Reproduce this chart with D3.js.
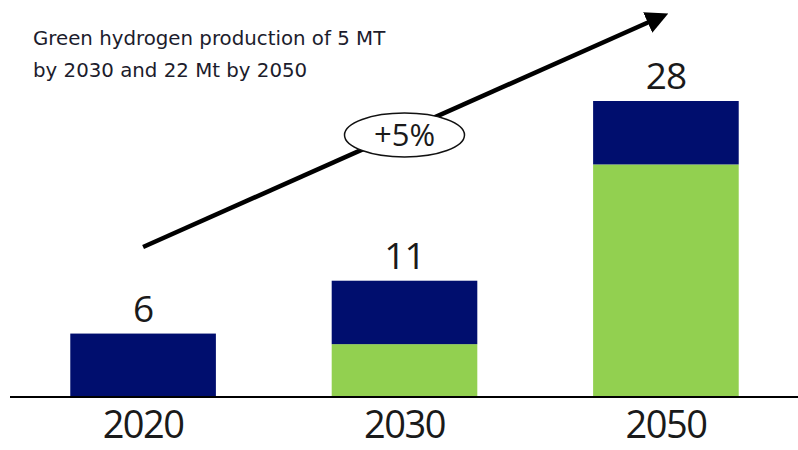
<!DOCTYPE html>
<html>
<head>
<meta charset="utf-8">
<script src="https://cdn.jsdelivr.net/npm/d3@7"></script>
<style>
  html, body { margin: 0; padding: 0; background: #fff; }
  svg { display: block; }
</style>
</head>
<body>
<svg id="chart" width="798" height="450" font-family="'Open Sans', 'Noto Sans', sans-serif"></svg>
<script>
// Hydrogen demand (Mt) by year, split into green and other production
const years = ["2020", "2030", "2050"];
const greenValues = [0, 5, 22];
const otherValues = [6, 6, 6];
const totalLabels = ["6", "11", "28"];
const titleLines = ["Green hydrogen production of 5 MT", "by 2030 and 22 Mt by 2050"];
const growthLabel = "+5%";

const colors = { green: "#92d050", other: "#000e6e", ink: "#1a1a1a" };

const svg = d3.select("#chart");
const baseY = 397;

const x = d3.scaleBand().domain(years).range([18, 791]).paddingInner(0.443).paddingOuter(0.2);
const y = d3.scaleLinear().domain([0, 28]).range([baseY, 101]);

const rows = years.map((yr, i) => ({
  year: yr, green: greenValues[i], other: otherValues[i], label: totalLabels[i]
}));
const stack = d3.stack().keys(["green", "other"])(rows);

// Stacked bars
svg.append("g").selectAll("g").data(stack).join("g")
  .attr("fill", d => colors[d.key])
  .selectAll("rect").data(d => d).join("rect")
  .attr("x", d => x(d.data.year))
  .attr("width", x.bandwidth())
  .attr("y", d => y(d[1]))
  .attr("height", d => y(d[0]) - y(d[1]));

// Total labels above bars
svg.append("g").selectAll("text").data(rows).join("text")
  .attr("x", d => x(d.year) + x.bandwidth() / 2)
  .attr("y", d => y(d.green + d.other) - 12)
  .attr("text-anchor", "middle")
  .attr("font-size", 37)
  .attr("letter-spacing", -1)
  .attr("fill", colors.ink)
  .text(d => d.label);

// Baseline axis with year labels
const axis = svg.append("g").attr("transform", `translate(0,${baseY})`)
  .call(d3.axisBottom(x).tickSize(0).tickPadding(14));
axis.select(".domain").attr("d", `M10,0H798`).attr("stroke", "#000").attr("stroke-width", 2);
axis.selectAll(".tick text")
  .attr("font-family", "'Open Sans', sans-serif")
  .attr("font-size", 38)
  .attr("letter-spacing", -1.5)
  .attr("fill", colors.ink);

// Title
svg.append("g").selectAll("text").data(titleLines).join("text")
  .attr("x", 33)
  .attr("y", (d, i) => 45 + i * 32)
  .attr("font-family", "'DejaVu Sans', sans-serif")
  .attr("font-size", 19.8)
  .attr("fill", "#1c1c2c")
  .text(d => d);

// Growth arrow
const defs = svg.append("defs");
defs.append("marker")
  .attr("id", "arrowHead")
  .attr("viewBox", "0 0 10 10")
  .attr("refX", 5).attr("refY", 5)
  .attr("markerWidth", 5).attr("markerHeight", 5)
  .attr("markerUnits", "strokeWidth")
  .attr("orient", "auto")
  .append("path").attr("d", "M0,0L10,5L0,10Z").attr("fill", "#000");

const x0 = x("2020") + x.bandwidth() / 2, y0 = 247;
const x1 = 658, y1 = 18;
svg.append("line")
  .attr("x1", x0).attr("y1", y0).attr("x2", x1).attr("y2", y1)
  .attr("stroke", "#000").attr("stroke-width", 4.5)
  .attr("marker-end", "url(#arrowHead)");

// Growth badge
const cx = x("2030") + x.bandwidth() / 2, cy = 135;
svg.append("ellipse")
  .attr("cx", cx).attr("cy", cy).attr("rx", 60).attr("ry", 22)
  .attr("fill", "#fff").attr("stroke", "#111").attr("stroke-width", 1.5);
svg.append("text")
  .attr("x", cx).attr("y", cy + 11)
  .attr("text-anchor", "middle")
  .attr("font-size", 31)
  .attr("fill", colors.ink)
  .text(growthLabel);
</script>
</body>
</html>
